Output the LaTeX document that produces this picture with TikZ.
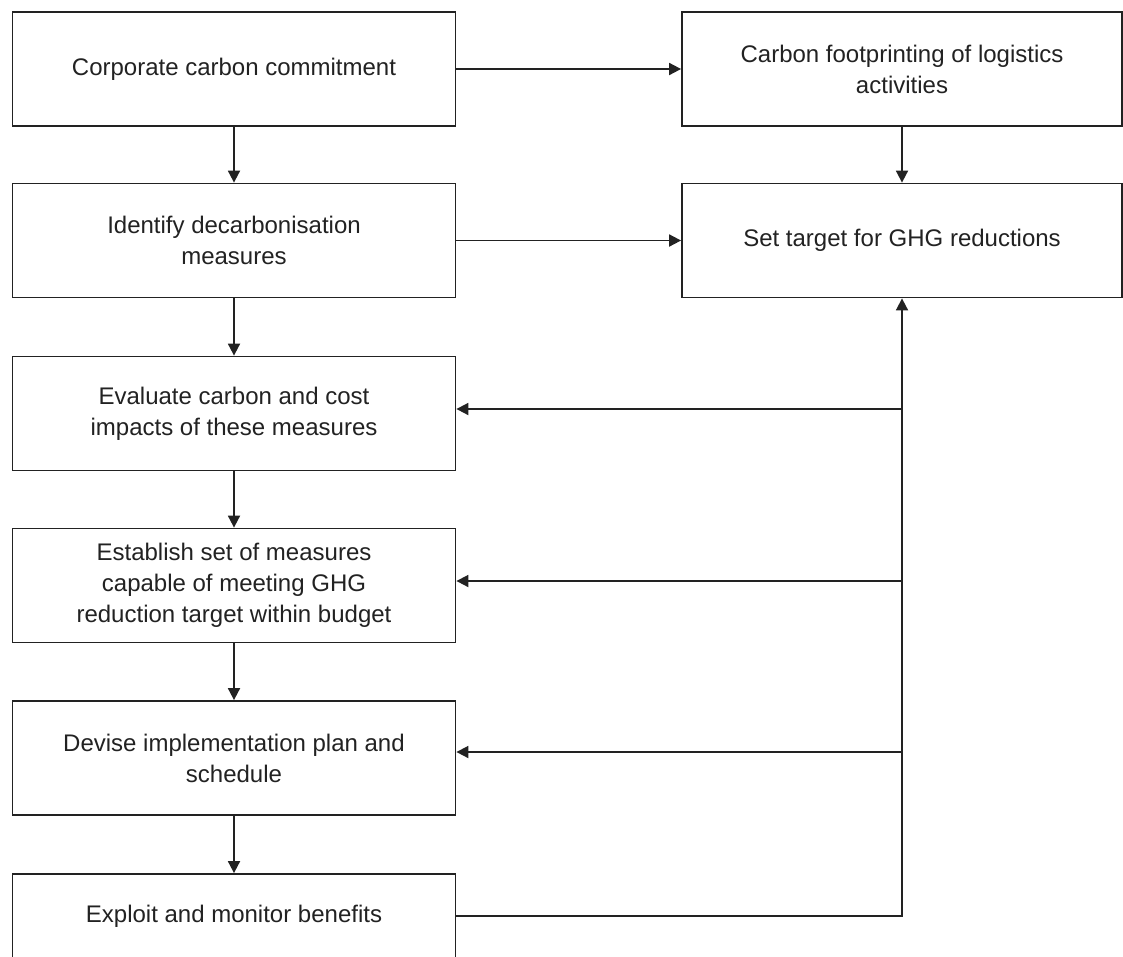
\documentclass[tikz,border=0pt]{standalone}
\usepackage{fontspec}
\setmainfont{Liberation Sans}
\usetikzlibrary{arrows.meta}
\definecolor{ink}{HTML}{222222}
\begin{document}
\begin{tikzpicture}[x=1pt,y=-1pt,
  stepbox/.style={draw=ink, line width=1.8pt, fill=white, text=ink,
    inner sep=0pt, align=center, font=\fontsize{24}{31}\selectfont},
  leftbox/.style={stepbox, minimum width=443pt, minimum height=114pt},
  rightbox/.style={stepbox, minimum width=440pt, minimum height=114pt},
  arr/.style={draw=ink, line width=1.8pt, -{Triangle[length=12pt,width=12pt]}},
  link/.style={draw=ink, line width=1.8pt}]
\useasboundingbox (0,0) rectangle (1123,956);
\clip (0,0) rectangle (1123,956);

% left column of steps
\node[leftbox] (commit) at (234,69) {Corporate carbon commitment};
\node[leftbox] (ident) at (234,240.5) {Identify decarbonisation\\measures};
\node[leftbox] (eval) at (234,413.5) {Evaluate carbon and cost\\impacts of these measures};
\node[leftbox] (estab) at (234,585.5) {Establish set of measures\\capable of meeting GHG\\reduction target within budget};
\node[leftbox] (devise) at (234,758) {Devise implementation plan and\\schedule};
\node[leftbox, minimum height=84pt] (exploit) at (234,916) {Exploit and monitor benefits};

% right column
\node[rightbox] (foot) at (902,69) {Carbon footprinting of logistics\\activities};
\node[rightbox] (target) at (902,240.5) {Set target for GHG reductions};

% main flow
\draw[arr] (commit) -- (ident);
\draw[arr] (ident) -- (eval);
\draw[arr] (eval) -- (estab);
\draw[arr] (estab) -- (devise);
\draw[arr] (devise) -- (exploit);
\draw[arr] (commit) -- (foot);
\draw[arr] (ident) -- (target);
\draw[arr] (foot) -- (target);

% feedback trunk from monitoring back to the target
\coordinate (bend) at (902,916);
\draw[arr] (exploit.east |- bend) -- (bend) -- (target.south);
\coordinate (t3) at (902,409);
\coordinate (t4) at (902,581);
\coordinate (t5) at (902,752);
\draw[arr] (t3) -- (t3 -| eval.east);
\draw[arr] (t4) -- (t4 -| estab.east);
\draw[arr] (t5) -- (t5 -| devise.east);
\end{tikzpicture}
\end{document}
